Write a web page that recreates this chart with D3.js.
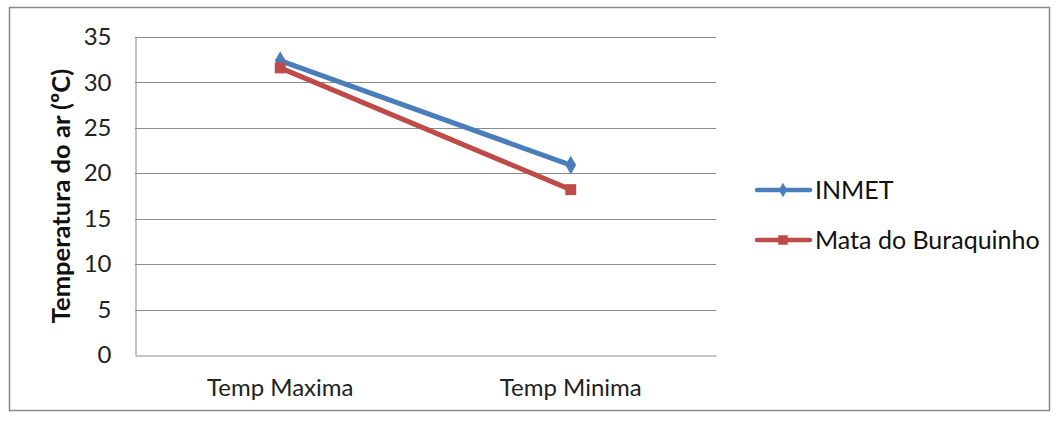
<!DOCTYPE html>
<html><head><meta charset="utf-8">
<script src="https://cdn.jsdelivr.net/npm/d3@7"></script>
<style>body{margin:0;background:#fff}svg{display:block}</style>
</head><body>
<script>
const categories = ["Temp Maxima", "Temp Minima"];
const seriesNames = ["INMET", "Mata do Buraquinho"];
const inmet = [32.4, 20.9];
const mata = [31.6, 18.2];
const yTicks = [0, 5, 10, 15, 20, 25, 30, 35];

const W = 1059, H = 421;
const svg = d3.select("body").append("svg").attr("width", W).attr("height", H);
svg.append("rect").attr("x", 9.5).attr("y", 7.5).attr("width", 1040).attr("height", 403)
  .attr("fill", "#fff").attr("stroke", "#888").attr("stroke-width", 1.5);

const m = {l: 135, r: 716, t: 37, b: 355};
const x = d3.scaleBand().domain(categories).range([m.l, m.r]);
const y = d3.scaleLinear().domain([0, 35]).range([m.b, m.t]);
const font = "Lato, 'Open Sans', sans-serif";

const grid = svg.append("g");
grid.selectAll("line").data(yTicks.filter(d => d > 0)).join("line")
  .attr("x1", m.l).attr("x2", m.r).attr("y1", d => Math.round(y(d)) + 0.5).attr("y2", d => Math.round(y(d)) + 0.5)
  .attr("stroke", "#8c8c8c").attr("stroke-width", 1);

const yAxis = svg.append("g").attr("transform", `translate(${m.l + 0.5},0)`)
  .call(d3.axisLeft(y).tickValues(yTicks).tickSize(0).tickPadding(24));
yAxis.select(".domain").attr("stroke", "#8c8c8c");
yAxis.selectAll("text").attr("font-family", font).attr("font-size", 24).attr("fill", "#222");

const xAxis = svg.append("g").attr("transform", `translate(0,${m.b + 0.5})`)
  .call(d3.axisBottom(x).tickSize(0).tickPadding(23));
xAxis.select(".domain").attr("stroke", "#8c8c8c");
xAxis.selectAll("text").attr("font-family", font).attr("font-size", 24).attr("fill", "#222");

svg.append("text").attr("transform", `translate(61,196) rotate(-90)`)
  .attr("text-anchor", "middle").attr("dy", "0.35em").attr("font-family", font).attr("font-weight", "bold")
  .attr("font-size", 25.5).attr("fill", "#111").text("Temperatura do ar (ºC)");

const colors = ["#4a7ebb", "#be4b48"];
const data = [inmet, mata];
const line = d3.line().x((d, i) => x(categories[i]) + x.bandwidth() / 2).y(d => y(d));
const diamond = d3.symbol().type(d3.symbolDiamond).size(100);
const square = d3.symbol().type(d3.symbolSquare).size(120);

data.forEach((vals, si) => {
  svg.append("path").datum(vals).attr("d", line).attr("fill", "none")
    .attr("stroke", colors[si]).attr("stroke-width", 5).attr("stroke-linejoin", "round");
  svg.selectAll(null).data(vals).join("path")
    .attr("transform", (d, i) => `translate(${x(categories[i]) + x.bandwidth() / 2},${y(d)})`)
    .attr("d", si === 0 ? diamond() : square()).attr("fill", colors[si]);
});

// legend
const lg = svg.append("g");
const legY = [190, 240];
const legDiamond = d3.symbol().type(d3.symbolDiamond).size(60);
const legSquare = d3.symbol().type(d3.symbolSquare).size(90);
seriesNames.forEach((n, i) => {
  lg.append("line").attr("x1", 757).attr("x2", 810).attr("y1", legY[i]).attr("y2", legY[i])
    .attr("stroke", colors[i]).attr("stroke-width", 4.5).attr("stroke-linecap", "round");
  lg.append("path").attr("transform", `translate(783,${legY[i]})`)
    .attr("d", i === 0 ? legDiamond() : legSquare()).attr("fill", colors[i]);
  lg.append("text").attr("x", 815).attr("y", legY[i]).attr("dy", "0.35em")
    .attr("font-family", font).attr("font-size", 25).attr("fill", "#111").text(n);
});
</script>
</body></html>
